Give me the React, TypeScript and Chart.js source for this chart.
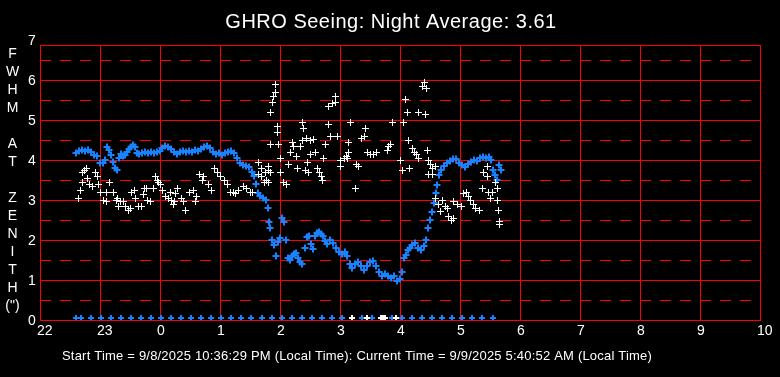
import React, { useEffect, useRef } from 'react';
import { Chart, registerables } from 'chart.js';

Chart.register(...registerables);

const TITLE = 'GHRO Seeing: Night Average: 3.61';
const FOOTER =
  'Start Time = 9/8/2025 10:36:29 PM (Local Time): Current Time = 9/9/2025 5:40:52 AM (Local Time)';
const Y_AXIS_LETTERS = ['F', 'W', 'H', 'M', '', 'A', 'T', '', 'Z', 'E', 'N', 'I', 'T', 'H', '(")'];
const X_TICK_HOURS = [22, 23, 0, 1, 2, 3, 4, 5, 6, 7, 8, 9, 10];
const Y_TICK_LABELS = [0, 1, 2, 3, 4, 5, 6, 7];

// time axis: minutes after 22:00 local time
const blueMinutes = [
  36, 39, 42, 45, 48, 51, 54, 57, 60, 63, 65, 67, 69, 71, 73, 75, 77, 79, 81, 83, 85, 87, 89, 91, 93, 95, 97, 99,
  102, 105, 108, 111, 114, 117, 120, 122, 125, 128, 131, 134, 137, 140, 143, 146, 149, 152, 155, 158, 161, 164,
  167, 170, 173, 176, 179, 182, 185, 188, 191, 194, 197, 200, 203, 206, 209, 212, 214, 216, 218, 220, 223, 226,
  228, 229, 230, 232, 234, 236, 238, 240, 242, 244, 246, 248, 250, 252, 254, 256, 258, 260, 262, 265, 267, 269,
  271, 273, 275, 277, 279, 281, 283, 285, 287, 290, 293, 296, 299, 302, 305, 307, 310, 312, 315, 318, 321, 324,
  327, 330, 333, 336, 339, 342, 345, 348, 351, 354, 357, 360, 362, 364, 366, 368, 370, 372, 375, 378, 381, 384,
  386, 388, 390, 392, 394, 396, 397, 399, 401, 404, 407, 410, 413, 416, 419, 422, 425, 428, 431, 434, 437, 440,
  443, 446, 449, 451, 453, 455, 457, 459, 461,
];
const blueValues = [
  4.18, 4.23, 4.25, 4.23, 4.25, 4.2, 4.13, 4.1, 3.93, 3.93, 4.0, 4.33, 4.25, 4.13, 3.95, 3.8, 3.75, 4.05, 4.15, 4.1,
  4.13, 4.2, 4.28, 4.33, 4.38, 4.33, 4.18, 4.15, 4.18, 4.2, 4.18, 4.2, 4.18, 4.2, 4.23, 4.3, 4.35, 4.33, 4.28, 4.2,
  4.15, 4.2, 4.23, 4.2, 4.23, 4.2, 4.25, 4.23, 4.28, 4.33, 4.35, 4.3, 4.2, 4.15, 4.18, 4.13, 4.18, 4.2, 4.23, 4.18,
  4.05, 3.93, 3.88, 3.85, 3.83, 3.7, 3.6, 3.4, 3.18, 3.1, 3.05, 3.0, 2.8, 2.45, 2.3, 2.0, 1.88, 1.6, 1.95, 2.05,
  2.55, 2.45, 2.0, 1.55, 1.5, 1.6, 1.65, 1.68, 1.55, 1.45, 1.4, 1.8, 2.08, 2.1, 1.9, 1.78, 2.1, 2.18, 2.2, 2.15,
  2.1, 1.98, 1.9, 2.0, 1.93, 1.8, 1.7, 1.65, 1.7, 1.6, 1.4, 1.3, 1.4, 1.45, 1.35, 1.25, 1.35, 1.45, 1.48, 1.35,
  1.2, 1.1, 1.15, 1.1, 1.05, 1.1, 0.98, 1.03, 1.2, 1.55, 1.63, 1.75, 1.8, 1.88, 1.93, 1.8, 1.75, 1.85, 2.0, 2.3,
  2.5, 2.7, 2.93, 3.18, 3.38, 3.63, 3.75, 3.85, 3.93, 3.98, 4.03, 4.03, 3.93, 3.88, 3.83, 3.9, 3.95, 4.0, 3.98,
  4.05, 4.08, 4.05, 4.08, 4.0, 3.75, 3.63, 3.5, 3.88, 3.75,
];

const whiteMinutes = [
  38, 40, 42, 42, 44, 46, 47, 49, 52, 55, 57, 58, 60, 63, 66, 66, 69, 73, 76, 77, 78, 80, 83, 85, 88, 90, 91, 94,
  95, 98, 101, 103, 104, 106, 107, 110, 113, 115, 117, 118, 120, 122, 125, 128, 130, 131, 133, 134, 135, 137, 141,
  143, 145, 149, 153, 155, 156, 159, 162, 163, 168, 171, 174, 177, 180, 184, 187, 190, 193, 195, 198, 203, 207,
  210, 212, 218, 218, 221, 221, 224, 225, 226, 228, 228, 228, 230, 230, 230, 232, 233, 235, 235, 237, 237, 238,
  238, 240, 240, 243, 246, 248, 250, 252, 253, 256, 257, 260, 262, 262, 263, 265, 266, 267, 268, 270, 270, 273,
  275, 277, 279, 281, 282, 283, 285, 288, 288, 290, 292, 295, 295, 297, 300, 300, 304, 306, 307, 308, 308, 310,
  315, 316, 318, 321, 324, 325, 327, 330, 333, 336, 347, 348, 350, 352, 360, 362, 363, 365, 367, 368, 370, 372,
  374, 376, 378, 378, 382, 384, 385, 386, 387, 388, 388, 390, 393, 393, 395, 395, 398, 400, 402, 405, 407, 408,
  411, 413, 414, 417, 421, 423, 426, 428, 430, 433, 436, 439, 442, 443, 447, 447, 448, 450, 452, 455, 457, 457,
  458, 460, 460,
];
const whiteValues = [
  3.05, 3.25, 3.68, 3.43, 3.75, 3.8, 3.55, 3.4, 3.33, 3.7, 3.58, 3.38, 3.18, 2.98, 3.2, 2.95, 3.43, 3.18, 2.98,
  3.05, 2.83, 2.95, 2.97, 2.85, 2.75, 2.78, 3.2, 3.25, 3.05, 2.85, 2.83, 3.13, 3.3, 3.28, 3.0, 2.95, 3.3, 3.6, 3.5,
  3.45, 3.4, 3.25, 3.1, 3.05, 3.18, 3.0, 2.88, 2.95, 3.15, 3.28, 3.05, 2.95, 2.75, 3.2, 3.25, 2.95, 3.1, 3.65, 3.5,
  3.58, 3.38, 3.25, 3.8, 3.7, 3.6, 3.5, 3.38, 3.2, 3.18, 3.15, 3.25, 3.35, 3.3, 3.2, 3.2, 3.93, 3.65, 3.6, 3.8,
  3.45, 3.7, 3.5, 3.45, 3.75, 3.85, 3.68, 5.18, 4.4, 5.43, 5.58, 5.88, 5.7, 4.68, 4.83, 4.38, 4.4, 4.05, 3.68,
  3.45, 3.4, 3.88, 4.18, 4.45, 4.33, 4.08, 3.8, 4.33, 4.93, 4.5, 4.8, 3.75, 4.55, 3.93, 3.68, 4.48, 4.13, 4.52,
  4.2, 3.8, 3.7, 3.6, 3.5, 4.05, 4.38, 4.88, 5.35, 4.58, 5.4, 5.45, 5.58, 4.58, 3.83, 4.0, 4.05, 4.1, 4.05, 4.2,
  4.45, 4.93, 3.3, 3.88, 3.85, 4.55, 4.6, 4.8, 4.2, 4.15, 4.13, 4.18, 4.25, 4.35, 4.38, 4.93, 4.0, 3.75, 4.93, 5.5,
  5.2, 4.5, 3.8, 4.3, 4.2, 4.15, 4.05, 5.2, 5.85, 5.95, 5.13, 5.8, 4.25, 4.0, 3.63, 3.9, 3.78, 3.63, 3.85, 3.05,
  2.9, 2.7, 3.0, 2.85, 2.78, 2.6, 2.5, 2.95, 2.55, 2.9, 2.85, 3.15, 3.2, 3.1, 3.0, 2.9, 2.8, 2.75, 3.3, 3.7, 3.83,
  3.58, 3.2, 3.05, 3.18, 3.43, 3.3, 3.0, 2.75, 2.45, 2.38,
];

// markers sitting on the bottom axis
const blueZeroMinutes = [
  36, 41, 51, 61, 71, 81, 91, 101, 111, 121, 131, 141, 151, 161, 171, 181, 191, 201, 211, 222, 232, 242, 252, 262,
  272, 282, 292, 302, 312, 322, 332, 342, 352, 362, 372, 382, 392, 402, 412, 422, 432, 442, 453,
];
const whiteZeroMinutes = [312, 327, 341, 343, 345, 356];
const zeroRowValue = 0.06;

const BLUE = 'rgb(25,130,255)';
const WHITE = '#ffffff';
const RED = '#ff0000';
const FONT = "'Liberation Sans', Arial, sans-serif";

const decor = {
  id: 'decor',
  beforeDraw(chart: any) {
    const { ctx, width, height } = chart;
    ctx.save();
    ctx.fillStyle = '#000';
    ctx.fillRect(0, 0, width, height);
    ctx.restore();
  },
  beforeDatasetsDraw(chart: any) {
    const { ctx, chartArea: a, scales } = chart;
    const x = scales.x;
    const y = scales.y;
    // snap markers to the pixel grid so thin crosses stay crisp
    chart.data.datasets.forEach((ds: any, i: number) => {
      const meta = chart.getDatasetMeta(i);
      const odd = Math.round(ds.pointBorderWidth) % 2 === 1;
      meta.data.forEach((el: any) => {
        el.x = odd ? Math.floor(el.x) + 0.5 : Math.round(el.x);
        el.y = odd ? Math.floor(el.y) + 0.5 : Math.round(el.y);
      });
    });
    ctx.save();
    ctx.strokeStyle = RED;
    ctx.lineWidth = 1;
    ctx.setLineDash([11, 9]);
    for (let v = 0.5; v < 7; v += 1) {
      const py = Math.round(y.getPixelForValue(v)) + 0.5;
      if (py < a.top) continue;
      ctx.beginPath();
      ctx.moveTo(a.left, py);
      ctx.lineTo(a.right, py);
      ctx.stroke();
    }
    ctx.setLineDash([]);
    for (let v = 0; v <= 6; v += 1) {
      const py = Math.round(y.getPixelForValue(v)) + 0.5;
      ctx.beginPath();
      ctx.moveTo(a.left, py);
      ctx.lineTo(a.right + 1, py);
      ctx.stroke();
    }
    const top = Math.round(a.top) + 0.5;
    ctx.beginPath();
    ctx.moveTo(a.left, top);
    ctx.lineTo(a.right + 1, top);
    ctx.stroke();
    X_TICK_HOURS.forEach((_, i) => {
      const px = Math.round(x.getPixelForValue(i * 60)) + 0.5;
      ctx.beginPath();
      ctx.moveTo(px, a.top);
      ctx.lineTo(px, a.bottom + 1);
      ctx.stroke();
    });
    ctx.restore();
  },
  afterDraw(chart: any) {
    const { ctx, scales } = chart;
    const x = scales.x;
    const y = scales.y;
    ctx.save();
    ctx.fillStyle = WHITE;
    // title
    ctx.font = `20px ${FONT}`;
    ctx.textAlign = 'center';
    ctx.textBaseline = 'alphabetic';
    (ctx as any).letterSpacing = '0.5px';
    ctx.fillText(TITLE, 391, 28);
    // y ticks
    (ctx as any).letterSpacing = '0px';
    ctx.font = `14px ${FONT}`;
    ctx.textAlign = 'left';
    Y_TICK_LABELS.forEach((v) => {
      ctx.fillText(String(v), 28, y.getPixelForValue(v) + 5);
    });
    // x ticks
    X_TICK_HOURS.forEach((h, i) => {
      ctx.fillText(String(h), x.getPixelForValue(i * 60) - 3, 335);
    });
    // vertical axis title
    ctx.textAlign = 'center';
    Y_AXIS_LETTERS.forEach((ch, k) => {
      if (ch) ctx.fillText(ch, 12.5, 58 + 18 * k);
    });
    // footer
    ctx.font = `13px ${FONT}`;
    ctx.textAlign = 'left';
    (ctx as any).letterSpacing = '0.2px';
    ctx.fillText(FOOTER, 62, 360);
    ctx.restore();
  },
};

export default function App() {
  const ref = useRef<HTMLCanvasElement>(null);
  useEffect(() => {
    if (!ref.current) return;
    const toPts = (mins: number[], vals: number[]) => mins.map((m, i) => ({ x: m, y: vals[i] }));
    const chart = new Chart(ref.current, {
      type: 'scatter',
      data: {
        datasets: [
          {
            label: 'FWHM',
            data: toPts(whiteMinutes, whiteValues),
            pointStyle: 'cross',
            pointRadius: 3.5,
            pointBorderWidth: 1,
            borderColor: WHITE,
            backgroundColor: WHITE,
          },
          {
            label: 'FWHM zero',
            data: whiteZeroMinutes.map((m) => ({ x: m, y: zeroRowValue })),
            pointStyle: 'cross',
            pointRadius: 3,
            pointBorderWidth: 2,
            borderColor: WHITE,
            backgroundColor: WHITE,
            clip: { left: 10, right: 10, top: 10, bottom: 0 },
          },
          {
            label: 'Blue',
            data: toPts(blueMinutes, blueValues),
            pointStyle: 'cross',
            pointRadius: 3.5,
            pointBorderWidth: 2,
            borderColor: BLUE,
            backgroundColor: BLUE,
          },
          {
            label: 'Blue zero',
            data: blueZeroMinutes.map((m) => ({ x: m, y: zeroRowValue })),
            pointStyle: 'cross',
            pointRadius: 3,
            pointBorderWidth: 2,
            borderColor: BLUE,
            backgroundColor: BLUE,
            clip: { left: 10, right: 10, top: 10, bottom: 0 },
          },
        ] as any,
      },
      options: {
        responsive: false,
        animation: false,
        devicePixelRatio: 1,
        events: [],
        layout: { padding: { left: 40, right: 20, top: 45, bottom: 57 } },
        scales: {
          x: { type: 'linear', display: false, min: 0, max: 720 },
          y: { type: 'linear', display: false, min: 0, max: 6.875 },
        },
        plugins: {
          legend: { display: false },
          tooltip: { enabled: false },
          title: { display: false },
        },
      } as any,
      plugins: [decor],
    });
    return () => chart.destroy();
  }, []);
  return (
    <div style={{ position: 'fixed', left: 0, top: 0, width: 780, height: 377, background: '#000' }}>
      <canvas ref={ref} width={780} height={377} style={{ display: 'block', width: 780, height: 377 }} />
    </div>
  );
}
